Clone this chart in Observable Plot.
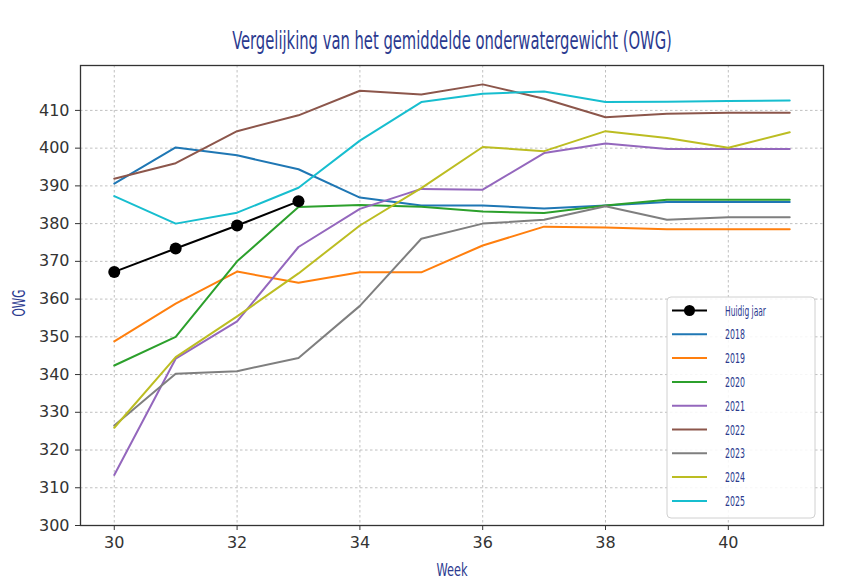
<!DOCTYPE html>
<html>
<head>
<meta charset="utf-8">
<script src="https://cdn.jsdelivr.net/npm/d3@7"></script>
<script src="https://cdn.jsdelivr.net/npm/@observablehq/plot@0.6"></script>
<style>
  html, body { margin: 0; padding: 0; background: #fff; }
  #wrap { position: relative; width: 858px; height: 584px; }
  #wrap > svg { position: absolute; left: 0; top: 0; }
</style>
</head>
<body>
<div id="wrap"></div>
<script>
const weeks = [30, 31, 32, 33, 34, 35, 36, 37, 38, 39, 40, 41];
const huidigWeeks = [30, 31, 32, 33];
const huidigJaar = [367.2, 373.4, 379.5, 385.9];

const years = ["2018", "2019", "2020", "2021", "2022", "2023", "2024", "2025"];
const colors = ["#1f77b4", "#ff7f0e", "#2ca02c", "#9467bd", "#8c564b", "#7f7f7f", "#bcbd22", "#17becf"];

const v2018 = [390.6, 400.2, 398.1, 394.4, 386.9, 384.8, 384.8, 384.0, 384.8, 385.7, 385.7, 385.7];
const v2019 = [348.8, 358.8, 367.3, 364.3, 367.1, 367.1, 374.2, 379.2, 379.0, 378.5, 378.5, 378.5];
const v2020 = [342.4, 350.0, 370.0, 384.4, 384.9, 384.5, 383.2, 382.8, 384.8, 386.3, 386.3, 386.3];
const v2021 = [313.4, 344.2, 354.1, 373.8, 383.9, 389.2, 389.0, 398.7, 401.2, 399.8, 399.8, 399.8];
const v2022 = [391.9, 396.0, 404.5, 408.7, 415.2, 414.2, 416.9, 413.1, 408.2, 409.1, 409.4, 409.4];
const v2023 = [326.5, 340.2, 340.9, 344.4, 358.2, 376.0, 380.0, 381.0, 384.6, 381.0, 381.7, 381.7];
const v2024 = [325.9, 344.6, 355.4, 366.8, 379.5, 389.4, 400.3, 399.2, 404.5, 402.7, 400.1, 404.2];
const v2025 = [387.3, 380.0, 382.9, 389.5, 402.0, 412.2, 414.4, 415.0, 412.2, 412.3, 412.5, 412.6];
const seriesValues = [v2018, v2019, v2020, v2021, v2022, v2023, v2024, v2025];

const xTicks = [30, 32, 34, 36, 38, 40];
const yTicks = [300, 310, 320, 330, 340, 350, 360, 370, 380, 390, 400, 410];

const titleText = "Vergelijking van het gemiddelde onderwatergewicht (OWG)";
const xLabel = "Week";
const yLabel = "OWG";
const huidigLabel = "Huidig jaar";

const rows = [];
years.forEach((y, i) => weeks.forEach((w, j) => rows.push({year: y, week: w, value: seriesValues[i][j]})));
const huidig = huidigWeeks.map((w, j) => ({week: w, value: huidigJaar[j]}));

const chart = Plot.plot({
  width: 858,
  height: 584,
  marginLeft: 80,
  marginRight: 35,
  marginTop: 65,
  marginBottom: 59,
  style: {fontFamily: "DejaVu Sans", fontSize: "16px", color: "#333", background: "transparent"},
  x: {domain: [29.45, 41.55]},
  y: {domain: [300, 421.9]},
  color: {domain: years, range: colors},
  marks: [
    Plot.ruleX(xTicks, {x: d => d, stroke: "#b0b0b0", strokeWidth: 0.8, strokeDasharray: "2.5,2.5"}),
    Plot.ruleY(yTicks, {y: d => d, stroke: "#b0b0b0", strokeWidth: 0.8, strokeDasharray: "2.5,2.5"}),
    Plot.line(rows, {x: "week", y: "value", z: "year", stroke: "year", strokeWidth: 2}),
    Plot.line(huidig, {x: "week", y: "value", stroke: "black", strokeWidth: 2}),
    Plot.dot(huidig, {x: "week", y: "value", r: 6, fill: "black"}),
    Plot.frame({stroke: "#333", strokeWidth: 1.3}),
    Plot.axisX({ticks: xTicks, tickSize: 5, tickPadding: 6, tickFormat: d => String(d), label: null, fontSize: 16}),
    Plot.axisY({ticks: yTicks, tickSize: 5, tickPadding: 6, tickFormat: d => String(d), label: null, fontSize: 16})
  ]
});

const wrap = document.getElementById("wrap");
wrap.appendChild(chart);

// Overlay: title, axis labels, legend
const ov = d3.select(wrap).append("svg")
  .attr("width", 858).attr("height", 584)
  .style("pointer-events", "none");
const blue = "#2b3a8f";
const narrow = "'Liberation Sans Narrow', 'DejaVu Sans Condensed', sans-serif";

// Condensed-looking text: pick font-size so the natural width matches, then stretch vertically.
function narrowText(parent, str, x, y, width, capPx, anchor, rotate) {
  const t = parent.append("text").text(str)
    .attr("font-family", narrow).attr("font-size", 20).attr("fill", blue)
    .attr("text-anchor", anchor);
  const w20 = t.node().getComputedTextLength();
  const fs = 20 * width / w20;
  t.attr("font-size", fs);
  const sy = capPx / (0.716 * fs);
  t.attr("transform", `translate(${x},${y})` + (rotate ? " rotate(-90)" : "") + ` scale(1,${sy})`);
  return t;
}

narrowText(ov, titleText, 452, 49, 440, 18, "middle", false);
narrowText(ov, xLabel, 452, 576, 31, 13, "middle", false);
narrowText(ov, yLabel, 25, 303, 27, 12.3, "middle", true);

const lg = ov.append("g");
lg.append("rect").attr("x", 667).attr("y", 297).attr("width", 148).attr("height", 221)
  .attr("rx", 4).attr("fill", "white").attr("fill-opacity", 0.85).attr("stroke", "#d0d0d0");

const entries = [{label: huidigLabel, color: "black", marker: true}]
  .concat(years.map((y, i) => ({label: y, color: colors[i], marker: false})));
entries.forEach((e, i) => {
  const cy = 310.5 + i * 23.8;
  lg.append("line").attr("x1", 672).attr("x2", 707).attr("y1", cy).attr("y2", cy)
    .attr("stroke", e.color).attr("stroke-width", 2);
  if (e.marker) lg.append("circle").attr("cx", 689.5).attr("cy", cy).attr("r", 5.5).attr("fill", "black");
  narrowText(lg, e.label, 725, cy + 5, e.marker ? 41 : 20, 10, "start", false);
});
</script>
</body>
</html>
